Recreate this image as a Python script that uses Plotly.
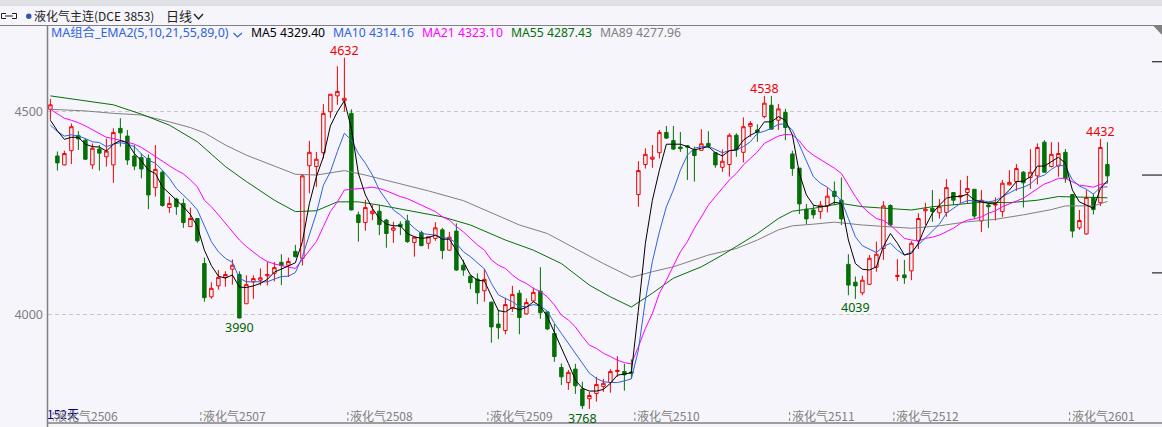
import plotly.graph_objects as go

W, H = 1162, 427
L, R, T, B = 48, 0, 25, 4

opens = [4505,4390,4368,4403,4440,4429,4368,4407,4388,4368,4458,4439,4390,4386,4384,4312,4350,4263,4284,4273,
 4216,4236,4125,4043,4070,4091,4111,4098,4026,4080,4084,4095,4101,4128,4121,4155,4138,4366,4364,4398,
 4499,4538,4526,4495,4245,4226,4248,4254,4232,4207,4222,4230,4177,4201,4175,4187,4208,4158,4205,4121,
 4094,4087,4058,4030,3976,3960,4015,4052,4001,4033,4057,4006,3953,3869,3832,3865,3816,3792,3805,3822,
 3832,3859,3859,3858,4295,4369,4382,4398,4448,4428,4412,4415,4405,4404,4421,4398,4362,4369,4441,4399,
 4463,4454,4487,4515,4478,4497,4395,4360,4259,4257,4253,4267,4303,4281,4123,4079,4053,4074,4116,4162,
 4268,4093,4097,4107,4181,4255,4261,4250,4251,4300,4289,4300,4308,4230,4269,4269,4253,4319,4327,4350,
 4337,4341,4424,4364,4365,4399,4295,4213,4198,4288,4275,4369]
highs = [4530,4401,4403,4470,4451,4433,4421,4417,4433,4458,4483,4454,4417,4396,4394,4417,4355,4290,4287,4285,
 4263,4236,4140,4079,4109,4106,4135,4106,4096,4096,4113,4129,4129,4148,4140,4171,4344,4427,4400,4518,
 4542,4611,4632,4505,4253,4282,4269,4269,4235,4228,4229,4245,4190,4206,4191,4227,4213,4203,4224,4134,
 4096,4101,4112,4031,4011,4041,4070,4060,4039,4066,4116,4007,3976,3879,3863,3878,3834,3809,3846,3841,
 3865,3897,3878,3889,4377,4409,4417,4454,4464,4464,4449,4417,4413,4456,4451,4400,4406,4446,4446,4485,
 4476,4468,4538,4538,4518,4506,4403,4360,4272,4269,4279,4312,4327,4337,4148,4093,4095,4146,4179,4279,
 4271,4136,4134,4180,4249,4275,4306,4284,4333,4300,4331,4341,4308,4306,4275,4288,4331,4355,4370,4353,
 4407,4421,4429,4424,4424,4407,4296,4257,4306,4298,4432,4424]
lows = [4479,4354,4367,4370,4405,4380,4358,4354,4364,4324,4413,4368,4355,4335,4259,4290,4265,4250,4245,4213,
 4216,4176,4031,4038,4061,4068,4073,3990,4026,4038,4071,4071,4081,4072,4092,4140,4120,4298,4314,4384,
 4484,4516,4499,4256,4179,4206,4232,4195,4164,4176,4195,4176,4142,4169,4161,4181,4136,4157,4107,4095,
 4062,4025,4031,3930,3939,3951,4006,3951,4000,4031,3989,3961,3883,3826,3814,3804,3767,3767,3785,3809,
 3807,3846,3812,3841,4265,4359,4361,4384,4432,4405,4400,4331,4327,4404,4409,4361,4351,4339,4388,4374,
 4437,4425,4483,4456,4454,4429,4341,4247,4222,4236,4235,4251,4269,4220,4047,4038,4047,4072,4105,4134,
 4216,4082,4075,4084,4161,4220,4228,4236,4240,4269,4273,4273,4235,4203,4213,4231,4240,4318,4304,4263,
 4309,4320,4350,4362,4339,4324,4189,4208,4196,4246,4267,4323]
closes = [4516,4373,4396,4462,4432,4382,4409,4397,4402,4448,4447,4380,4365,4358,4294,4357,4268,4273,4265,4226,
 4236,4181,4041,4064,4091,4098,4121,3991,4073,4088,4090,4098,4115,4120,4130,4142,4341,4399,4382,4495,
 4542,4549,4532,4257,4226,4263,4254,4221,4199,4213,4216,4179,4190,4169,4191,4213,4157,4190,4109,4109,
 4078,4053,4086,3969,3967,4024,4049,3992,4029,4054,4004,3964,3896,3846,3857,3824,3775,3800,3827,3830,
 3859,3862,3851,3855,4354,4394,4387,4448,4434,4407,4408,4412,4391,4420,4414,4368,4377,4441,4405,4462,
 4470,4448,4520,4456,4506,4460,4359,4272,4235,4245,4269,4291,4290,4235,4072,4070,4084,4138,4148,4267,
 4220,4096,4090,4175,4236,4259,4253,4265,4312,4281,4293,4310,4242,4281,4265,4272,4323,4325,4359,4324,
 4350,4411,4350,4394,4396,4334,4205,4231,4288,4258,4411,4341]

ma5 = [4478,4452,4431,4436,4436,4419,4413,4412,4402,4419,4428,4423,4396,4378,4355,4347,4314,4298,4281,4265,
 4246,4216,4158,4120,4094,4089,4097,4067,4066,4070,4076,4086,4104,4111,4119,4127,4179,4273,4339,4388,
 4464,4499,4526,4458,4347,4294,4261,4236,4222,4218,4218,4199,4191,4187,4189,4195,4185,4185,4158,4130,
 4097,4084,4082,4047,4009,4006,4017,4011,4017,4031,4020,3994,3957,3916,3879,3838,3818,3811,3811,3815,
 3830,3850,3853,3856,4010,4175,4281,4355,4419,4419,4419,4413,4405,4409,4413,4398,4390,4403,4405,4429,
 4441,4450,4474,4474,4487,4478,4442,4347,4294,4269,4265,4267,4276,4273,4183,4125,4111,4109,4117,4167,
 4199,4175,4146,4150,4175,4216,4249,4269,4286,4290,4290,4296,4281,4277,4273,4272,4290,4306,4327,4328,
 4339,4365,4365,4376,4387,4372,4306,4277,4269,4261,4310,4329]
ma10 = [4466,4450,4439,4442,4439,4433,4425,4423,4413,4419,4423,4419,4413,4395,4380,4372,4355,4335,4310,4294,
 4277,4257,4216,4179,4154,4138,4128,4089,4080,4080,4079,4080,4087,4093,4094,4103,4142,4195,4249,4318,
 4351,4401,4446,4429,4396,4372,4343,4306,4281,4257,4245,4228,4212,4199,4197,4195,4189,4187,4175,4154,
 4142,4126,4112,4076,4048,4039,4031,4019,4019,4024,4020,4008,3978,3953,3928,3904,3879,3855,3842,3834,
 3832,3832,3836,3841,3912,4035,4130,4203,4265,4306,4355,4392,4409,4413,4414,4405,4398,4403,4405,4413,
 4425,4446,4451,4458,4468,4469,4454,4417,4376,4339,4323,4313,4298,4280,4236,4191,4169,4160,4152,4167,
 4175,4158,4146,4154,4171,4187,4204,4222,4249,4261,4273,4280,4280,4280,4277,4280,4290,4300,4308,4313,
 4321,4337,4343,4357,4368,4365,4331,4316,4308,4296,4313,4314]
ma21 = [4505,4493,4483,4478,4472,4464,4454,4446,4436,4433,4429,4424,4419,4411,4400,4388,4378,4366,4355,4346,
 4331,4314,4281,4265,4245,4224,4203,4183,4167,4154,4140,4130,4124,4120,4116,4113,4135,4158,4179,4216,
 4253,4277,4306,4308,4309,4311,4313,4310,4304,4296,4290,4285,4277,4269,4261,4253,4240,4232,4216,4203,
 4187,4171,4158,4134,4121,4113,4097,4084,4076,4064,4056,4043,4023,3998,3986,3969,3945,3924,3916,3904,
 3896,3887,3881,3878,3920,3965,4002,4052,4084,4121,4154,4179,4212,4240,4269,4290,4310,4331,4347,4368,
 4384,4400,4421,4429,4439,4443,4442,4427,4405,4392,4382,4372,4360,4347,4318,4290,4265,4249,4236,4231,
 4220,4203,4187,4183,4181,4187,4190,4195,4203,4212,4224,4232,4235,4240,4249,4255,4265,4273,4279,4286,
 4298,4310,4321,4327,4335,4335,4327,4318,4316,4313,4320,4323]
ma55_idx = [0,9,13,17,21,25,28,32,35,38,41,44,47,50,53,56,60,65,69,73,77,80,83,86,89,93,96,99,101,104,106,109,113,116,119,123,126,129,133,137,141,144,147,151]
ma55 = [4538,4516,4493,4466,4425,4364,4327,4281,4253,4255,4277,4277,4269,4259,4249,4240,4220,4183,4158,4125,4072,4043,4018,4052,4089,4117,4146,4179,4199,4236,4254,4261,4273,4265,4261,4257,4265,4269,4276,4275,4281,4290,4288,4287]
ma89_idx = [0,5,9,13,17,20,22,25,28,31,35,38,42,45,50,54,59,63,67,71,75,79,83,86,89,94,98,101,104,106,109,112,116,120,123,127,131,135,139,143,145,149,151]
ma89 = [4505,4501,4495,4491,4474,4460,4447,4417,4392,4372,4345,4343,4354,4343,4322,4304,4280,4249,4220,4199,4162,4125,4091,4105,4117,4146,4162,4183,4208,4218,4222,4227,4220,4216,4212,4218,4228,4234,4245,4258,4267,4267,4278]

price_ticks = [4500, 4000]
month_labels = ["液化气2506","液化气2507","液化气2508","液化气2509","液化气2510","液化气2511","液化气2512","液化气2601"]
month_pos = [0.4,21.5,42.5,62.5,83.5,105.6,120.5,145.6]
peak_idx = [42,102,150]
peak_val = [4632,4538,4432]
trough_idx = [27,76,115]
trough_val = [3990,3768,4039]
legend_names = ["MA5 4329.40","MA10 4314.16","MA21 4323.10","MA55 4287.43","MA89 4277.96"]
right_mark_vals = [4622,4343,4102]

C_BG = "#f5f5fb"; C_RED = "#f00000"; C_GREEN = "#057005"; C_BLUE = "#2f63e0"
C_MAG = "#ff00ff"; C_GRAY = "#808080"; C_DK = "#006400"
SANS = "Noto Sans, Noto Sans CJK SC, sans-serif"
CJK = "Noto Sans CJK SC, sans-serif"

idx = list(range(len(closes)))
fig = go.Figure()
fig.add_trace(go.Candlestick(x=idx, open=opens, high=highs, low=lows, close=closes, hoverinfo="skip",
    increasing=dict(line=dict(color=C_RED, width=1), fillcolor=C_BG),
    decreasing=dict(line=dict(color=C_GREEN, width=1), fillcolor=C_GREEN), showlegend=False))
for x_, y_, c, w in [(ma89_idx, ma89, C_GRAY, 1), (ma55_idx, ma55, C_GREEN, 1), (idx, ma21, C_MAG, 1),
                     (idx, ma10, C_BLUE, 1), (idx, ma5, "#000000", 1)]:
    fig.add_trace(go.Scatter(x=x_, y=y_, mode="lines", line=dict(color=c, width=w), hoverinfo="skip", showlegend=False))

plot_w = W - L - R; plot_h = H - T - B
px = lambda x: (x - L) / plot_w
py = lambda y: 1 - (y - T) / plot_h

def txt(x, y, s, color, size=12, fam=SANS, anchor="left"):
    fig.add_annotation(xref="paper", yref="paper", x=px(x), y=py(y), text=s, showarrow=False, xanchor=anchor,
                       yanchor="middle", font=dict(color=color, size=size, family=fam), borderpad=0, borderwidth=0)

# header
txt(34, 16, "液化气主连(DCE 3853)", "#222222", 12, CJK)
txt(166, 16, "日线", "#222222", 13, CJK)
txt(51, 33, "MA组合_EMA2(5,10,21,55,89,0)", C_BLUE, 12.4)
for x_, s, c in zip([251,333,422,511,600], legend_names, ["#000000",C_BLUE,C_MAG,C_GREEN,C_GRAY]):
    txt(x_, 33, s, c, 12.2)
txt(47, 413, "152天", "#000080", 12, CJK)

for i, v in zip(peak_idx, peak_val):
    fig.add_annotation(x=i, y=v, text=str(v), showarrow=False, yanchor="bottom", yshift=-3,
                       font=dict(color=C_RED, size=12.5, family=SANS))
for i, v in zip(trough_idx, trough_val):
    fig.add_annotation(x=i, y=v, text=str(v), showarrow=False, yanchor="top", yshift=1,
                       font=dict(color=C_DK, size=12.5, family=SANS))
for p, s in zip(month_pos, month_labels):
    fig.add_annotation(x=p, xshift=0, xanchor="left", yref="paper", y=py(415), yanchor="middle", text=s, showarrow=False,
                       font=dict(color=C_GRAY, size=12, family=CJK))

def pshape(path=None, fill=None, line=None, **kw):
    d = dict(xref="paper", yref="paper", layer="above")
    if path:
        d.update(type="path", path=path, fillcolor=fill or "rgba(0,0,0,0)")
    d["line"] = line or dict(width=0)
    d.update(kw)
    fig.add_shape(**d)

def prect(x0, y0, x1, y1, c):
    pshape(path=f"M{px(x0)},{py(y0)} L{px(x1)},{py(y0)} L{px(x1)},{py(y1)} L{px(x0)},{py(y1)} Z", fill=c)

def pline(pts, c, w=1):
    p = "M" + " L".join(f"{px(a)},{py(b)}" for a, b in pts)
    pshape(path=p, line=dict(color=c, width=w))

prect(0, 0, W, 6, "#e0e1e5")
pline([(0, 25.5), (W, 25.5)], C_GRAY, 1)
pline([(47.5, 25), (47.5, 427)], C_GRAY, 1.5)
pline([(47.5, 423), (W, 423)], C_GRAY, 1.5)
pshape(path=f"M{px(1152.5)},{py(25)} L{px(1162)},{py(25)} L{px(1162)},{py(35)} Z", fill=C_GRAY)
# link icon, dot, chevrons
pshape(path=f"M{px(6)},{py(13.5)} L{px(1.5)},{py(13.5)} L{px(1.5)},{py(18.5)} L{px(6)},{py(18.5)} M{px(12)},{py(13.5)} L{px(16.5)},{py(13.5)} L{px(16.5)},{py(18.5)} L{px(12)},{py(18.5)} M{px(5)},{py(16)} L{px(13)},{py(16)}",
       line=dict(color="#222222", width=1))
fig.add_shape(type="circle", xref="paper", yref="paper", x0=px(26), x1=px(31.5), y0=py(13.5), y1=py(19),
              fillcolor="#2e5aa8", line=dict(width=0), layer="above")
pline([(194, 14), (198.5, 19), (203, 14)], "#222222", 1.4)
pline([(233.5, 33), (237.5, 37), (242, 33)], C_BLUE, 1.2)

# month tick marks and right-edge price marks
for p in month_pos:
    fig.add_shape(type="line", xref="x", yref="paper", x0=p, x1=p, y0=py(412), y1=py(423),
                  line=dict(color=C_GRAY, width=1, dash="dot"), layer="above")
for v, x0 in zip(right_mark_vals, [1152, 1142, 1152]):
    fig.add_shape(type="line", xref="paper", yref="y", x0=px(x0), x1=1, y0=v, y1=v,
                  line=dict(color="#000000", width=1), layer="above")

fig.update_layout(width=W, height=H, autosize=False, margin=dict(l=L, r=R, t=T, b=B, pad=0),
    paper_bgcolor=C_BG, plot_bgcolor=C_BG, showlegend=False, hovermode=False,
    xaxis=dict(range=[-0.34, 158.8], showgrid=False, zeroline=False, showticklabels=False, ticks="",
               rangeslider=dict(visible=False), fixedrange=True),
    yaxis=dict(range=[3732.3, 4712.6], tickvals=price_ticks, showgrid=True, gridcolor="#c8c8c8", griddash="4px,3px",
               gridwidth=1, zeroline=False, ticks="", ticklabelstandoff=4,
               tickfont=dict(color=C_GRAY, size=12.5, family=SANS), fixedrange=True))

fig.write_html("out.html", config={"displayModeBar": False},
               post_script="document.body.style.margin='0';document.body.style.overflow='hidden';")
